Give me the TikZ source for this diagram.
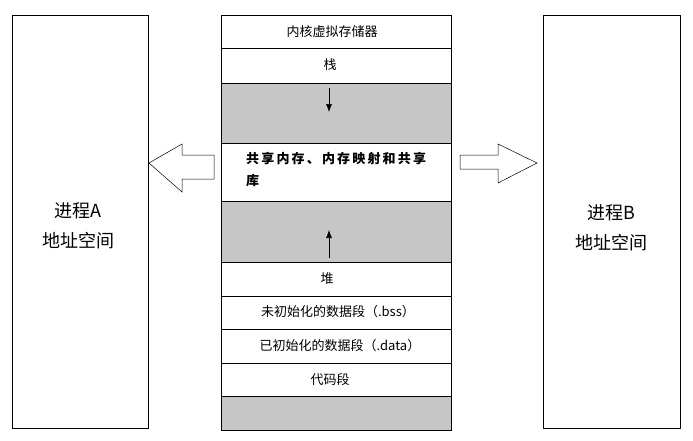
\documentclass[tikz,border=0pt]{standalone}
\usepackage{fontspec}
\usetikzlibrary{arrows.meta}
\newfontfamily\cjk{Noto Sans CJK SC}
\begin{document}
\begin{tikzpicture}[x=1pt,y=-1pt,
  cell/.style={draw,line width=0.6pt,fill=white},
  graycell/.style={draw,line width=0.6pt,fill=gray!45},
  lbl/.style={font=\cjk\fontsize{13}{15}\selectfont},
  big/.style={font=\cjk\fontsize{18}{30}\selectfont,align=center},
  hollow/.style={draw,line width=0.5pt,fill=white}]
\useasboundingbox[fill=white] (0,0) rectangle (693,440);
\draw[cell] (12,15) rectangle (148,428);
\draw[cell] (543,15) rectangle (680,428);
\node[big] (A) at (78,226) {进程A\\地址空间};
\node[big] (B) at (611,228) {进程B\\地址空间};
\draw[cell] (221,15) rectangle (451,48);
\node[lbl] (k) at (332,32) {内核虚拟存储器};
\draw[cell] (221,48) rectangle (451,83);
\node[lbl] (s) at (330,65) {栈};
\draw[graycell] (221,83) rectangle (451,143);
\draw[cell] (221,143) rectangle (451,201);
\node[lbl,font=\cjk\bfseries\fontsize{13}{22}\selectfont,align=left,anchor=north west,inner sep=0pt] (sh) at (246,152) {共\,享\,内\,存\,、\,内\,存\,映\,射\,和\,共\,享\\库};
\draw[graycell] (221,201) rectangle (451,262);
\draw[cell] (221,262) rectangle (451,296);
\node[lbl] (h) at (327,279) {堆};
\draw[cell] (221,296) rectangle (451,329);
\node[lbl] (bss) at (338,312) {未初始化的数据段（.bss）};
\draw[cell] (221,329) rectangle (451,363);
\node[lbl] (data) at (340,346) {已初始化的数据段（.data）};
\draw[cell] (221,363) rectangle (451,396);
\node[lbl] (c) at (330,380) {代码段};
\draw[graycell] (221,396) rectangle (451,430);
\coordinate (d1) at (329,88); \coordinate (d2) at (329,112);
\draw[-{Latex[length=8pt,width=6pt]},line width=0.6pt] (d1) -- (d2);
\coordinate (u1) at (329,258); \coordinate (u2) at (329,230);
\draw[-{Latex[length=8pt,width=6pt]},line width=0.6pt] (u1) -- (u2);
\draw[hollow] (149,163) -- (182,144) -- (182,155) -- (214,155) -- (214,179) -- (182,179) -- (182,192) -- cycle;
\draw[hollow] (537,163) -- (498,144) -- (498,155) -- (460,155) -- (460,169) -- (498,169) -- (498,183) -- cycle;
\end{tikzpicture}
\end{document}
